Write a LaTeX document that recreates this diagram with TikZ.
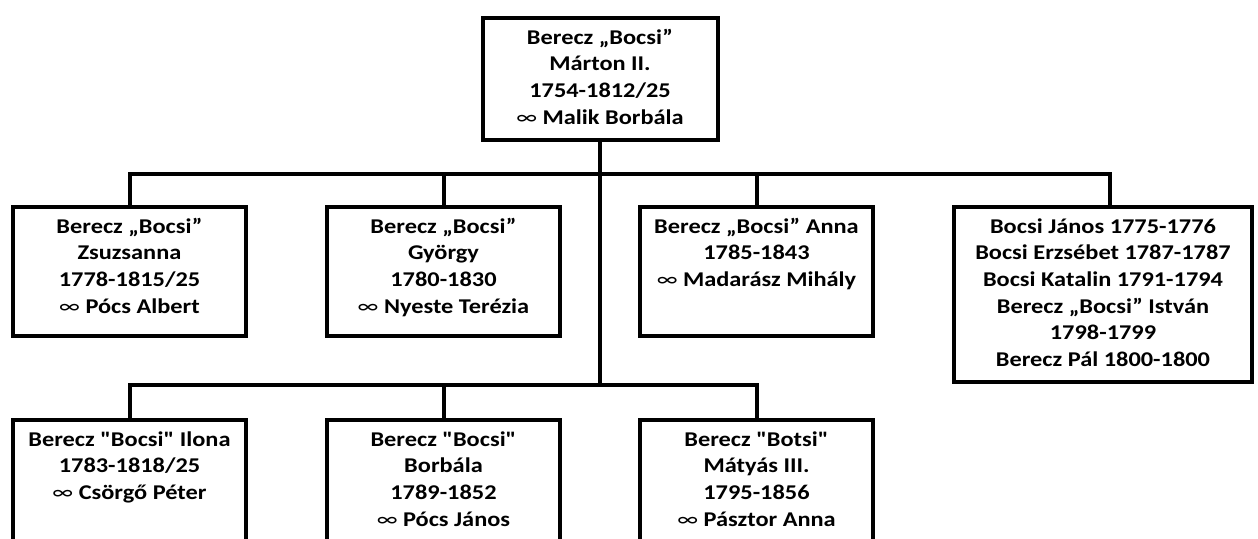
\documentclass[tikz,border=0pt]{standalone}
\usepackage{fontspec}
\newfontfamily\boxfont{Carlito}[FakeStretch=1.16]
\tikzset{
  box/.style={draw=black, line width=4pt, inner sep=0pt, fill=white},
  conn/.style={draw=black, line width=4pt},
}
\newcommand{\marr}{{\mdseries ∞}}
\newcommand{\btext}[3]{\parbox[c][#2][t]{#1}{\centering\boxfont\fontsize{21pt}{26.7pt}\selectfont\bfseries\rule{0pt}{26pt}#3\par}}
\begin{document}
\begin{tikzpicture}[x=1pt,y=-1pt]
\fill[white] (0,0) rectangle (1258,538);
\clip (0,0) rectangle (1258,538);
% boxes
\node[box] (top) at (600,79) {\btext{235pt}{122pt}{Berecz „Bocsi”\\Márton II.\\1754-1812/25\\\marr{} Malik Borbála}};
\node[box] (b1) at (129.5,271.5) {\btext{233pt}{129pt}{Berecz „Bocsi”\\Zsuzsanna\\1778-1815/25\\\marr{} Pócs Albert}};
\node[box] (b2) at (443.5,271.5) {\btext{233pt}{129pt}{Berecz „Bocsi”\\György\\1780-1830\\\marr{} Nyeste Terézia}};
\node[box] (b3) at (756.5,271.5) {\btext{233pt}{129pt}{Berecz „Bocsi” Anna\\1785-1843\\\marr{} Madarász Mihály}};
\node[box] (b4) at (1103,294.5) {\btext{298pt}{175pt}{Bocsi János 1775-1776\\Bocsi Erzsébet 1787-1787\\Bocsi Katalin 1791-1794\\Berecz „Bocsi” István\\1798-1799\\Berecz Pál 1800-1800}};
\node[box] (b5) at (129.5,510) {\btext{233pt}{180pt}{Berecz "Bocsi" Ilona\\1783-1818/25\\\marr{} Csörgő Péter}};
\node[box] (b6) at (443.5,510) {\btext{233pt}{180pt}{Berecz "Bocsi"\\Borbála\\1789-1852\\\marr{} Pócs János}};
\node[box] (b7) at (756.5,510) {\btext{233pt}{180pt}{Berecz "Botsi"\\Mátyás III.\\1795-1856\\\marr{} Pásztor Anna}};
% bus points
\coordinate (busT) at (600,174);
\coordinate (busB) at (600,385);
\coordinate (b4c) at ([xshift=7pt]b4.north);
% connectors
\draw[conn] (top.south) -- (busB);
\draw[conn] (b1.north) |- (busT) -| (b4c);
\draw[conn] (b2.north) -- (b2.north |- busT);
\draw[conn] (b3.north) -- (b3.north |- busT);
\draw[conn] (b5.north) |- (busB) -| (b7.north);
\draw[conn] (b6.north) -- (b6.north |- busB);
\end{tikzpicture}
\end{document}
